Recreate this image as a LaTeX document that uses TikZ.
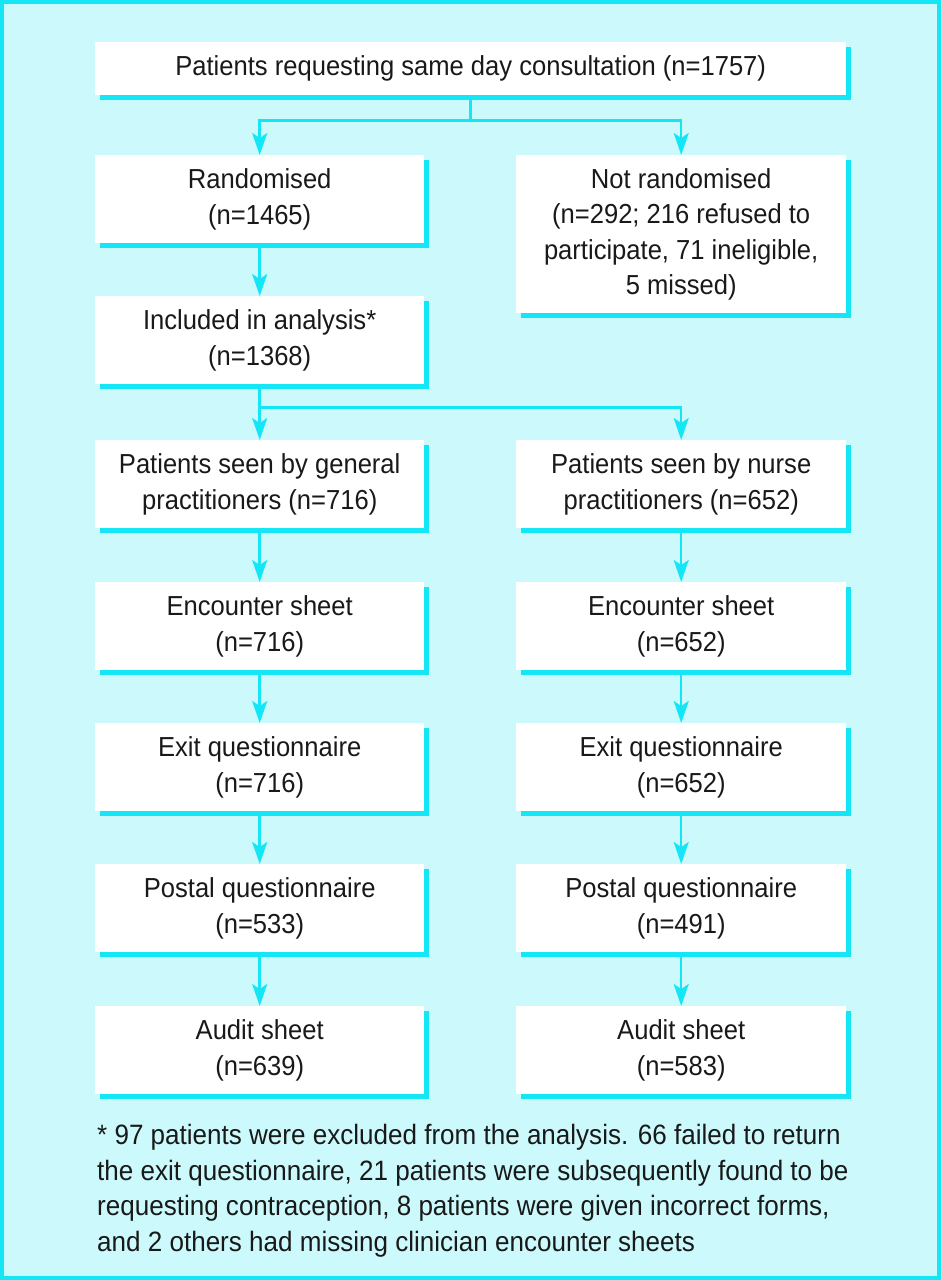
\documentclass[tikz,border=0pt]{standalone}
\usepackage{fontspec}
\setmainfont{Liberation Sans}[FakeStretch=0.93]
\usetikzlibrary{arrows.meta,shadows,calc}
\definecolor{bgc}{RGB}{204,250,252}
\definecolor{lc}{RGB}{20,230,245}
\definecolor{tc}{RGB}{25,25,25}
\begin{document}
\begin{tikzpicture}[x=1pt,y=-1pt,
  box/.style={fill=white, anchor=north west, align=center, inner sep=0pt,
    text=tc, font=\fontsize{27.5}{35.5}\selectfont,
    general shadow={fill=lc, shadow xshift=5pt, shadow yshift=-5pt}},
  lbox/.style={box, minimum width=329pt, minimum height=88pt},
  rbox/.style={box, minimum width=330pt, minimum height=88pt},
  conn/.style={draw=lc, line width=2.5pt},
  arr/.style={conn, -{Stealth[length=22pt,width=15pt,inset=5pt]}}]
\fill[bgc] (0,0) rectangle (941,1280);
\draw[lc, line width=4pt] (2,2) rectangle (939,1278);
\useasboundingbox (0,0) rectangle (941,1280);

\node[box, minimum width=751pt, minimum height=53pt] (top) at (95,42)
  {Patients requesting same day consultation (n=1757)};
\node[lbox] (r) at (95,155) {Randomised\\(n=1465)};
\node[rbox, minimum height=158pt] (nr) at (516,155)
  {Not randomised\\(n=292; 216 refused to\\participate, 71 ineligible,\\5 missed)};
\node[lbox] (inc) at (95,296) {Included in analysis*\\(n=1368)};
\node[lbox] (gp) at (95,440) {Patients seen by general\\practitioners (n=716)};
\node[rbox] (np) at (516,440) {Patients seen by nurse\\practitioners (n=652)};
\node[lbox] (enc1) at (95,582) {Encounter sheet\\(n=716)};
\node[rbox] (enc2) at (516,582) {Encounter sheet\\(n=652)};
\node[lbox] (ex1) at (95,723) {Exit questionnaire\\(n=716)};
\node[rbox] (ex2) at (516,723) {Exit questionnaire\\(n=652)};
\node[lbox] (po1) at (95,864) {Postal questionnaire\\(n=533)};
\node[rbox] (po2) at (516,864) {Postal questionnaire\\(n=491)};
\node[lbox] (au1) at (95,1006) {Audit sheet\\(n=639)};
\node[rbox] (au2) at (516,1006) {Audit sheet\\(n=583)};

\node[anchor=north west, align=left, inner sep=0pt, text=tc,
  font=\fontsize{28}{35.5}\selectfont] (fn) at (97,1124)
  {* 97 patients were excluded from the analysis. 66 failed to return\\
   the exit questionnaire, 21 patients were subsequently found to be\\
   requesting contraception, 8 patients were given incorrect forms,\\
   and 2 others had missing clinician encounter sheets};

\coordinate (b1) at ($(top.south)+(0,25)$);
\draw[conn] (top.south) -- (b1);
\draw[arr] (b1) -| (r.north);
\draw[arr] (b1) -| (nr.north);
\draw[arr] (r.south) -- (inc.north);
\coordinate (b2) at ($(inc.south)+(0,23)$);
\draw[arr] (inc.south) -- (gp.north);
\draw[arr] (inc.south) -- (b2) -| (np.north);
\draw[arr] (gp.south) -- (enc1.north);
\draw[arr] (np.south) -- (enc2.north);
\draw[arr] (enc1.south) -- (ex1.north);
\draw[arr] (enc2.south) -- (ex2.north);
\draw[arr] (ex1.south) -- (po1.north);
\draw[arr] (ex2.south) -- (po2.north);
\draw[arr] (po1.south) -- (au1.north);
\draw[arr] (po2.south) -- (au2.north);
\end{tikzpicture}
\end{document}
